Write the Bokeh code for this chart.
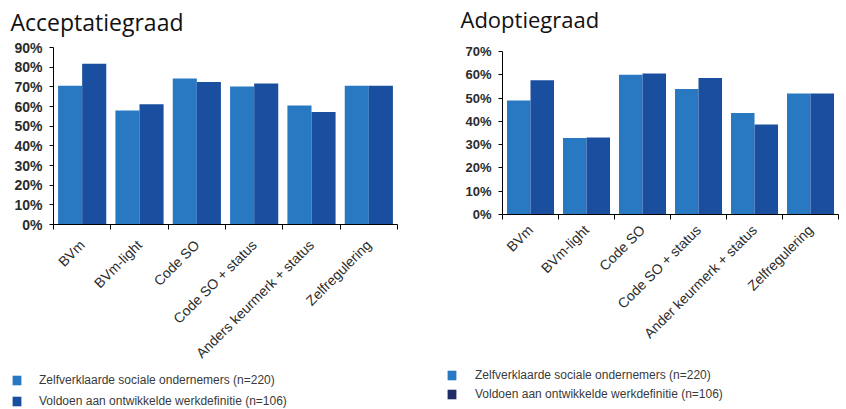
from bokeh.plotting import figure
from bokeh.layouts import row, column
from bokeh.models import (Range1d, FixedTicker, NumeralTickFormatter, Legend, LegendItem,
                          ColumnDataSource, Label)
from bokeh.embed import file_html
from bokeh.resources import INLINE
import math

# ---------------- data ----------------
categories_acc = ["BVm", "BVm-light", "Code SO", "Code SO + status",
                  "Anders keurmerk + status", "Zelfregulering"]
categories_ado = ["BVm", "BVm-light", "Code SO", "Code SO + status",
                  "Ander keurmerk + status", "Zelfregulering"]

acc_zelf = [0.705, 0.580, 0.742, 0.702, 0.605, 0.705]
acc_voldoen = [0.817, 0.612, 0.725, 0.717, 0.572, 0.705]

ado_zelf = [0.490, 0.328, 0.600, 0.539, 0.436, 0.520]
ado_voldoen = [0.577, 0.331, 0.605, 0.586, 0.387, 0.520]

yticks_acc = [0.0, 0.1, 0.2, 0.3, 0.4, 0.5, 0.6, 0.7, 0.8, 0.9]
yticks_ado = [0.0, 0.1, 0.2, 0.3, 0.4, 0.5, 0.6, 0.7]

series_labels = ["Zelfverklaarde sociale ondernemers (n=220)",
                 "Voldoen aan ontwikkelde werkdefinitie (n=106)"]
titles = ["Acceptatiegraad", "Adoptiegraad"]

LIGHT = "#2878C2"
DARK = "#1A4E9E"
NAVY = "#1F2C68"
TXT = "#2b2b2b"


def blank(width, height):
    q = figure(width=width, height=height, output_backend="svg", toolbar_location=None,
               x_axis_type=None, y_axis_type=None, x_range=Range1d(0, 1), y_range=Range1d(0, 1),
               min_border=0)
    q.frame_align = False
    q.outline_line_color = None
    q.xgrid.visible = False
    q.ygrid.visible = False
    return q


def make_title(text, width, height, x, y, size):
    q = blank(width, height)
    q.add_layout(Label(x=x, y=y, x_units="screen", y_units="screen", text=text,
                       text_font="Open Sans", text_font_size=size, text_color="#111111",
                       text_baseline="alphabetic", text_align="left"))
    return q


def make_chart(cats, s1, s2, yticks, width, height, mbl, mbr, mbt, frame_bottom,
               ylab_size, xlab_size, xlab_standoff):
    n = len(cats)
    p = figure(width=width, height=height, output_backend="svg", toolbar_location=None,
               x_range=Range1d(0, n), y_range=Range1d(0, yticks[-1]),
               min_border_left=mbl, min_border_right=mbr,
               min_border_top=mbt, min_border_bottom=height - frame_bottom)
    p.frame_align = False
    p.outline_line_color = None
    p.xgrid.visible = False
    p.ygrid.visible = False

    bw = 0.42
    centers = [i + 0.5 for i in range(n)]
    src = ColumnDataSource(dict(
        x1=[c - bw / 2 for c in centers], x2=[c + bw / 2 for c in centers],
        s1=s1, s2=s2))
    p.vbar(x="x1", top="s1", width=bw, source=src, fill_color=LIGHT, line_color=None)
    p.vbar(x="x2", top="s2", width=bw, source=src, fill_color=DARK, line_color=None)

    ya = p.yaxis[0]
    ya.ticker = FixedTicker(ticks=yticks)
    ya.formatter = NumeralTickFormatter(format="0%")
    ya.axis_line_color = "black"
    ya.major_tick_line_color = "black"
    ya.major_tick_out = 4
    ya.major_tick_in = 0
    ya.minor_tick_line_color = None
    ya.major_label_standoff = 7
    ya.major_label_text_font = "Liberation Sans"
    ya.major_label_text_font_size = ylab_size
    ya.major_label_text_font_style = "bold"
    ya.major_label_text_color = TXT

    xa = p.xaxis[0]
    xa.ticker = FixedTicker(ticks=centers, minor_ticks=list(range(n + 1)))
    xa.major_label_overrides = {c: cat for c, cat in zip(centers, cats)}
    xa.axis_line_color = "black"
    xa.major_tick_line_color = None
    xa.major_tick_out = 0
    xa.major_tick_in = 0
    xa.minor_tick_line_color = "black"
    xa.minor_tick_out = 5
    xa.minor_tick_in = 0
    xa.major_label_orientation = math.pi / 4
    xa.major_label_standoff = xlab_standoff
    xa.major_label_text_font = "Liberation Sans"
    xa.major_label_text_font_size = xlab_size
    xa.major_label_text_color = TXT
    return p


def make_legend(width, height, loc, dark, row_h, row_sp, standoff):
    q = blank(width, height)
    # one off-range point each, so the legend swatches have a colour to draw
    hidden = ColumnDataSource(dict(x=[-5.0], top=[0.0]))
    r1 = q.vbar(x="x", top="top", width=0.1, source=hidden, fill_color=LIGHT, line_color=None)
    r2 = q.vbar(x="x", top="top", width=0.1, source=hidden, fill_color=dark, line_color=None)
    lg = Legend(items=[LegendItem(label=series_labels[0], renderers=[r1]),
                       LegendItem(label=series_labels[1], renderers=[r2])],
                location=loc, orientation="vertical",
                padding=0, margin=0, spacing=row_sp,
                glyph_width=11, glyph_height=12, label_height=row_h,
                label_standoff=standoff, label_text_font="Liberation Sans",
                label_text_font_size="12px", label_text_color="#3a3a3a",
                border_line_alpha=0, background_fill_alpha=0)
    q.add_layout(lg)
    return q


t1 = make_title(titles[0], 430, 39, 10, 17.7, "23px")
p1 = make_chart(categories_acc, acc_zelf, acc_voldoen, yticks_acc,
                430, 332, 53, 33, 8, 224 - 39, "14px", "14px", 13)
l1 = make_legend(430, 38, (11, -1), DARK, 18, 3, 17)

t2 = make_title(titles[1], 416, 43, 30, 25, "22px")
p2 = make_chart(categories_ado, ado_zelf, ado_voldoen, yticks_ado,
                416, 321, 72, 8, 8, 214 - 43, "13px", "14px", 8)
l2 = make_legend(416, 45, (16, 7), NAVY, 17, 2, 18)

layout = row(column(t1, p1, l1), column(t2, p2, l2))
open("out.html", "w").write(file_html(layout, INLINE))
